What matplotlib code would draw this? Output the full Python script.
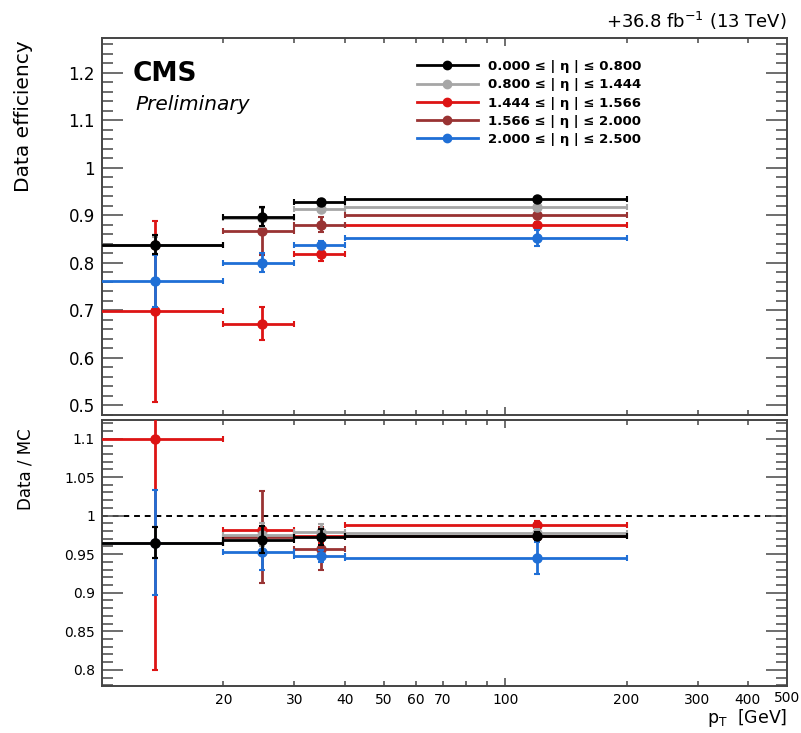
import matplotlib
matplotlib.use("Agg")
import matplotlib.pyplot as plt
from matplotlib.lines import Line2D
from matplotlib.ticker import MultipleLocator, FixedLocator, FuncFormatter
import numpy as np

# ----------------------------------------------------------------------
# data
# ----------------------------------------------------------------------
pt_edges = [7, 20, 30, 40, 200]

eta_labels = [
    "0.000 ≤ | η | ≤ 0.800",
    "0.800 ≤ | η | ≤ 1.444",
    "1.444 ≤ | η | ≤ 1.566",
    "1.566 ≤ | η | ≤ 2.000",
    "2.000 ≤ | η | ≤ 2.500",
]
colors = ["#000000", "#a6a6a6", "#dd1414", "#993333", "#1f6fd6"]

eff_black = [0.838, 0.897, 0.927, 0.934]
eff_gray = [0.836, 0.894, 0.913, 0.918]
eff_red = [0.697, 0.671, 0.819, 0.880]
eff_brown = [0.838, 0.867, 0.880, 0.901]
eff_blue = [0.761, 0.800, 0.838, 0.852]

eff_err_black = [0.020, 0.021, 0.006, 0.004]
eff_err_gray = [0.018, 0.020, 0.006, 0.004]
eff_err_red = [0.190, 0.035, 0.016, 0.006]
eff_err_brown = [0.020, 0.051, 0.016, 0.005]
eff_err_blue = [0.055, 0.020, 0.008, 0.017]

sf_black = [0.965, 0.969, 0.972, 0.974]
sf_gray = [0.965, 0.975, 0.979, 0.977]
sf_red = [1.100, 0.981, 0.974, 0.988]
sf_brown = [0.965, 0.972, 0.957, 0.973]
sf_blue = [0.965, 0.953, 0.948, 0.945]

sf_err_black = [0.020, 0.018, 0.010, 0.005]
sf_err_gray = [0.020, 0.015, 0.010, 0.005]
sf_err_red = [0.300, 0.010, 0.010, 0.005]
sf_err_brown = [0.020, 0.060, 0.028, 0.005]
sf_err_blue = [0.068, 0.023, 0.008, 0.021]

eff_all = [eff_black, eff_gray, eff_red, eff_brown, eff_blue]
eff_err_all = [eff_err_black, eff_err_gray, eff_err_red, eff_err_brown, eff_err_blue]
sf_all = [sf_black, sf_gray, sf_red, sf_brown, sf_blue]
sf_err_all = [sf_err_black, sf_err_gray, sf_err_red, sf_err_brown, sf_err_blue]
zorders = [7, 6, 3, 4, 5]

x_tick_labels = {20: "20", 30: "30", 40: "40", 50: "50", 60: "60", 70: "70",
                 200: "200", 300: "300", 400: "400", 500: "500"}

# ----------------------------------------------------------------------
# figure
# ----------------------------------------------------------------------
plt.rcParams["font.family"] = ["DejaVu Sans"]
W, H = 801, 733
fig = plt.figure(figsize=(W / 100, H / 100), dpi=100)


def fx(px):
    return px / W


def fy(py):
    return 1 - py / H


ax_top = fig.add_axes([fx(102), fy(415), fx(787) - fx(102), fy(38) - fy(415)])
ax_bot = fig.add_axes([fx(102), fy(686), fx(787) - fx(102), fy(420) - fy(686)],
                      sharex=ax_top)

edges = np.array(pt_edges, dtype=float)
centers = 0.5 * (edges[:-1] + edges[1:])
half = 0.5 * (edges[1:] - edges[:-1])

for vals, errs, sfs, sferrs, c, z in zip(eff_all, eff_err_all, sf_all, sf_err_all,
                                         colors, zorders):
    ax_top.errorbar(centers, vals, xerr=half, yerr=errs, fmt="o", color=c,
                    ms=6.5, elinewidth=2, capsize=2.5, capthick=1.5, zorder=z)
    ax_bot.errorbar(centers, sfs, xerr=half, yerr=sferrs, fmt="o", color=c,
                    ms=6.5, elinewidth=2, capsize=2.5, capthick=1.5, zorder=z)

ax_bot.axhline(1.0, color="black", lw=1.4, ls=(0, (3, 2.5)), zorder=1)

ax_top.set_xscale("log")
ax_top.set_xlim(10, 500)
ax_top.set_ylim(0.479, 1.273)
ax_bot.set_ylim(0.779, 1.124)

frame_col = "#444444"
tick_col = "#555555"
for ax in (ax_top, ax_bot):
    for sp in ax.spines.values():
        sp.set_color(frame_col)
        sp.set_linewidth(1.4)
    ax.xaxis.set_major_locator(FixedLocator([100]))
    ax.xaxis.set_minor_locator(FixedLocator([20, 30, 40, 50, 60, 70, 80, 90,
                                             200, 300, 400]))
    ax.tick_params(axis="both", which="both", direction="in", color=tick_col,
                   top=True, right=True, width=1.2)
    ax.tick_params(axis="x", which="major", length=6)
    ax.tick_params(axis="x", which="minor", length=3.5)
    ax.tick_params(axis="y", which="major", length=15)
    ax.tick_params(axis="y", which="minor", length=8)

ax_top.yaxis.set_major_locator(MultipleLocator(0.1))
ax_top.yaxis.set_minor_locator(MultipleLocator(0.02))
ax_bot.yaxis.set_major_locator(MultipleLocator(0.05))
ax_bot.yaxis.set_minor_locator(MultipleLocator(0.01))

gfmt = FuncFormatter(lambda v, p: "%g" % round(v, 3))
ax_top.yaxis.set_major_formatter(gfmt)
ax_bot.yaxis.set_major_formatter(gfmt)
ax_top.tick_params(axis="y", labelsize=12, pad=5)
ax_bot.tick_params(axis="y", labelsize=10, pad=5)

ax_top.tick_params(axis="x", which="both", labelbottom=False)
ax_bot.xaxis.set_major_formatter(FuncFormatter(lambda v, p: "100"))
ax_bot.xaxis.set_minor_formatter(
    FuncFormatter(lambda v, p: x_tick_labels.get(int(round(v)), "")))
ax_bot.tick_params(axis="x", which="both", labelsize=10, pad=5)

# 500 label sits right on the frame edge
fig.text(fx(787), fy(698), "500", ha="center", va="center", fontsize=10)

# ----------------------------------------------------------------------
# texts
# ----------------------------------------------------------------------
fig.text(fx(133), fy(61), "CMS", fontsize=19, fontweight="bold", va="top")
fig.text(fx(135), fy(95), "Preliminary", fontsize=14.5, style="italic", va="top")
fig.text(fx(787), fy(28), "+36.8 fb$^{-1}$ (13 TeV)", fontsize=13,
         ha="right", va="baseline")

fig.text(fx(24), fy(40), "Data efficiency", fontsize=14.5, rotation=90,
         ha="center", va="top")
fig.text(fx(26), fy(428), "Data / MC", fontsize=12, rotation=90,
         ha="center", va="top")
fig.text(fx(787), fy(723), "p$_{\\mathregular{T}}$  [GeV]", fontsize=12.5,
         ha="right", va="baseline")

handles = [Line2D([], [], color=c, marker="o", lw=2, ms=6) for c in colors]
fig.legend(handles, eta_labels, loc="upper left",
           bbox_to_anchor=(fx(417), fy(60)), bbox_transform=fig.transFigure,
           frameon=False, borderpad=0, borderaxespad=0, numpoints=1,
           handlelength=4.6, handletextpad=0.8, labelspacing=0.4,
           prop={"size": 9.5, "weight": "bold"})

fig.savefig("out.png", dpi=100)
